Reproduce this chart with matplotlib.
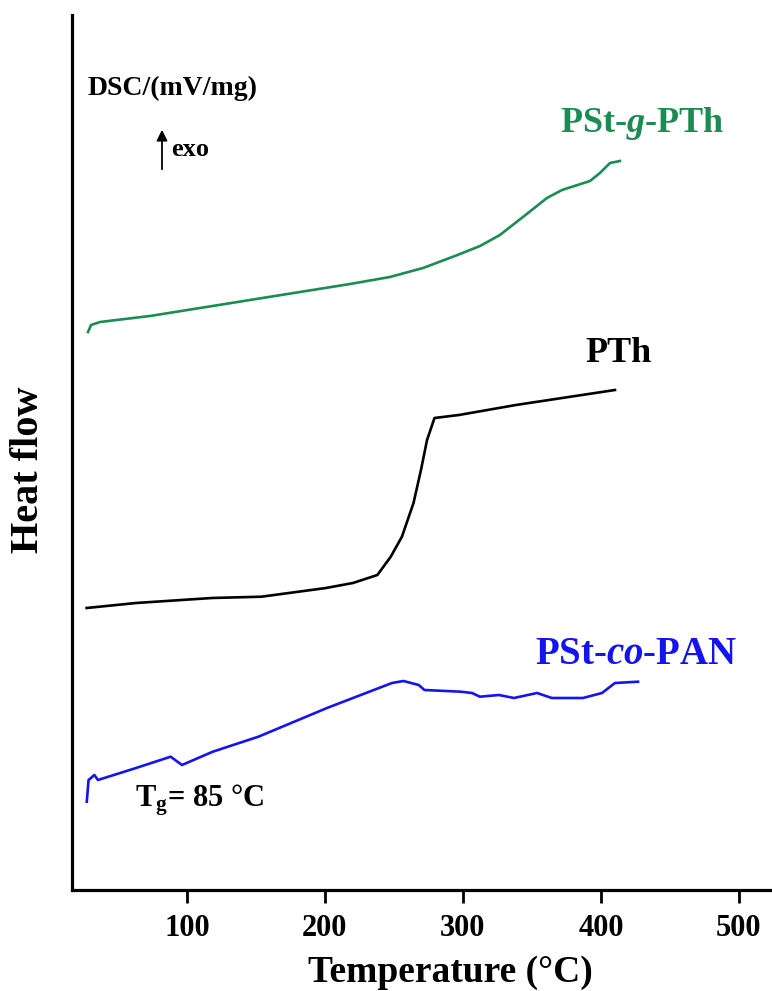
import matplotlib
matplotlib.use("Agg")
import matplotlib.pyplot as plt

plt.rcParams['font.family'] = ['Liberation Serif', 'DejaVu Serif']
plt.rcParams['font.weight'] = 'bold'
plt.rcParams['mathtext.fontset'] = 'custom'
plt.rcParams['mathtext.rm'] = 'Liberation Serif:bold'
plt.rcParams['mathtext.bf'] = 'Liberation Serif:bold'
plt.rcParams['mathtext.it'] = 'Liberation Serif:italic:bold'

# ---- data (temperature in °C, heat flow in arbitrary offset units) ----
graft_T = [28.3, 30.5, 37.0, 73.2, 109.5, 145.7, 181.9, 218.2, 247.1, 271.1, 294.2,
           312.4, 326.8, 343.5, 360.9, 371.8, 392.1, 399.3, 406.6, 413.8]
graft_H = [558, 565, 568, 574, 582, 590, 598, 606, 613, 622, 634,
           644, 655, 673, 692, 700, 709, 717, 727, 729]

pth_T = [27.3, 63.1, 118.1, 154.0, 200.8, 220.3, 238.0, 247.7, 255.8, 264.2,
         269.6, 274.0, 279.4, 297.1, 338.4, 410.2]
pth_H = [282, 287, 292, 293.3, 302, 307, 315, 333.3, 353.3, 387,
         420, 450, 472, 475, 485, 500]

copan_T = [27.4, 28.7, 32.9, 35.5, 63.1, 88.2, 96.4, 118.7, 151.8, 201.5, 248.6,
           256.9, 268.0, 272.1, 298.4, 306.6, 312.3, 326.1, 337.0, 353.7, 364.5,
           387.0, 400.8, 410.2, 426.9]
copan_H = [88.3, 110, 115, 110, 122, 133.3, 125, 138.3, 153.3, 182, 207,
           209, 205, 200, 198.3, 197, 193.3, 195, 192, 197, 192,
           192, 197, 207, 208.3]

x_ticks = [100, 200, 300, 400, 500]

W, H = 772, 991
fig = plt.figure(figsize=(W / 100, H / 100), dpi=100)
ax = fig.add_axes([72 / W, (H - 890) / H, 700 / W, 875 / H])

green = '#1c8c52'
blue = '#1414f0'
ax.plot(graft_T, graft_H, color=green, lw=1.9, solid_joinstyle='round')
ax.plot(pth_T, pth_H, color='black', lw=1.9, solid_joinstyle='round')
ax.plot(copan_T, copan_H, color=blue, lw=1.9, solid_joinstyle='round')

ax.set_xlim(16.7, 524)
ax.set_ylim(0, 875)
ax.set_xticks(x_ticks)
ax.set_xticklabels([str(t) for t in x_ticks], fontsize=22, fontweight='bold')
ax.set_yticks([])
ax.tick_params(axis='x', direction='out', length=9, width=2, pad=8)
for s in ['top', 'right']:
    ax.spines[s].set_visible(False)
for s in ['left', 'bottom']:
    ax.spines[s].set_linewidth(2.3)

def fx(px):
    return px / W

def fy(py):
    return 1 - py / H

fig.text(fx(450), fy(972), 'Temperature (°C)', fontsize=27, fontweight='bold',
         ha='center', va='center')
fig.text(fx(29), fy(470), 'Heat flow', fontsize=29, fontweight='bold',
         ha='center', va='center', rotation=90)

fig.text(fx(88), fy(88), 'DSC/(mV/mg)', fontsize=20, fontweight='bold',
         ha='left', va='center')
fig.text(fx(171), fy(150), 'exo', fontsize=19, fontweight='bold',
         ha='left', va='center')
ax.annotate('', xy=(fx(162), fy(127)), xytext=(fx(162), fy(172)),
            xycoords='figure fraction', textcoords='figure fraction',
            arrowprops=dict(arrowstyle='-|>', color='black', lw=1.3,
                            mutation_scale=16))

fig.text(fx(642), fy(124), r'PSt-$\mathit{g}$-PTh', fontsize=26, fontweight='bold',
         color=green, ha='center', va='center')
fig.text(fx(618), fy(354), 'PTh', fontsize=26, fontweight='bold',
         color='black', ha='center', va='center')
fig.text(fx(636), fy(655), r'PSt-$\mathit{co}$-PAN', fontsize=28, fontweight='bold',
         color=blue, ha='center', va='center')
fig.text(fx(135), fy(800), r'T$_{\mathbf{g}}$= 85 °C', fontsize=22, fontweight='bold',
         color='black', ha='left', va='center')

fig.savefig('out.png', dpi=100)
